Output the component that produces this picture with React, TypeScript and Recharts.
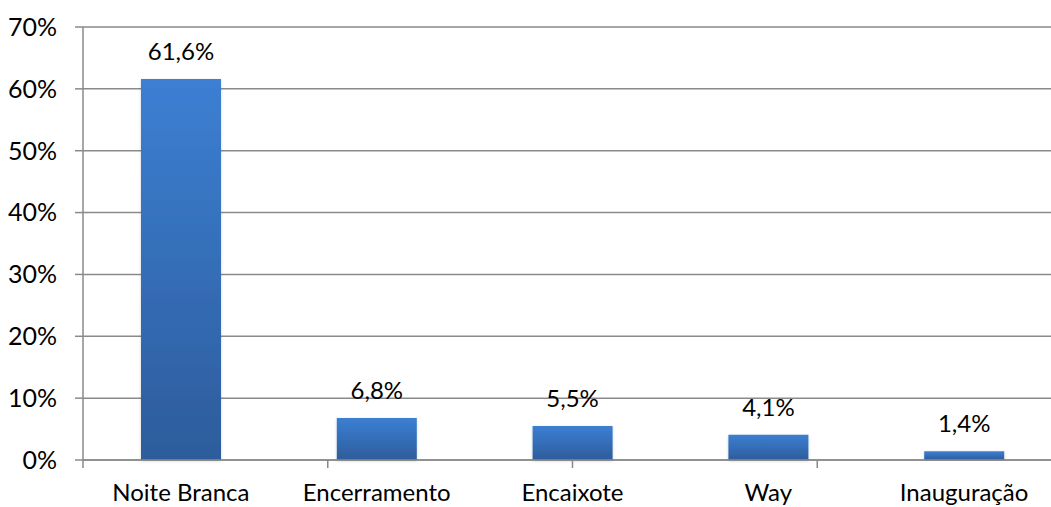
import { BarChart, Bar, XAxis, YAxis, CartesianGrid, LabelList } from "recharts";

const categories = ["Noite Branca", "Encerramento", "Encaixote", "Way", "Inauguração"];
const shares = [0.616, 0.068, 0.055, 0.041, 0.014];
const yTicks = [0, 0.1, 0.2, 0.3, 0.4, 0.5, 0.6, 0.7];
const boundaryTicks = [0, 1, 2, 3, 4, 5];

const data = categories.map((name, i) => ({ name, value: shares[i] }));

const FONT = "Lato, 'Open Sans', sans-serif";
const GRID = "#8a8a8a";

const pct = (v: number) => `${Math.round(v * 100)}%`;
const pctComma = (v: number) => `${(v * 100).toFixed(1).replace(".", ",")}%`;

export default function App() {
  return (
    <div
      style={{
        position: "fixed",
        left: 0,
        top: 0,
        width: 1051,
        height: 507,
        overflow: "hidden",
        background: "#fff",
        fontFamily: FONT,
      }}
    >
      <BarChart
        width={1075}
        height={507}
        data={data}
        margin={{ top: 27, right: 13, left: 0, bottom: 0 }}
      >
        <defs>
          <linearGradient id="barFill" x1="0" y1="0" x2="0" y2="1">
            <stop offset="0%" stopColor="#3c7fd3" />
            <stop offset="100%" stopColor="#2d5c9b" />
          </linearGradient>
          <filter id="barShadow" x="-10%" y="-10%" width="120%" height="120%">
            <feDropShadow dx="0" dy="1" stdDeviation="1.5" floodColor="#000" floodOpacity="0.18" />
          </filter>
        </defs>
        <CartesianGrid xAxisId="b" vertical={false} stroke={GRID} strokeWidth={1.5} />
        {/* boundary ticks between categories */}
        <XAxis
          xAxisId="a"
          type="number"
          domain={[0, 5]}
          ticks={boundaryTicks}
          height={8}
          tickSize={8}
          tickLine={{ stroke: GRID, strokeWidth: 1.5 }}
          axisLine={{ stroke: GRID, strokeWidth: 1.5 }}
          tickFormatter={() => ""}
          allowDataOverflow
        />
        <XAxis
          xAxisId="b"
          dataKey="name"
          height={39}
          axisLine={false}
          tickLine={false}
          tickSize={0}
          tickMargin={16}
          interval={0}
          tick={{ fill: "#000", fontSize: 24, fontFamily: FONT }}
        />
        <YAxis
          domain={[0, 0.7]}
          ticks={yTicks}
          width={83}
          tickSize={8}
          tickMargin={18}
          tickFormatter={pct}
          axisLine={{ stroke: GRID, strokeWidth: 1.5 }}
          tickLine={{ stroke: GRID, strokeWidth: 1.5 }}
          tick={{ fill: "#000", fontSize: 25, fontFamily: FONT }}
        />
        <Bar
          xAxisId="b"
          dataKey="value"
          barSize={80}
          fill="url(#barFill)"
          filter="url(#barShadow)"
          isAnimationActive={false}
        >
          <LabelList
            dataKey="value"
            position="top"
            offset={19}
            formatter={(v: any) => pctComma(Number(v))}
            style={{ fill: "#000", fontSize: 24, fontFamily: FONT }}
          />
        </Bar>
      </BarChart>
    </div>
  );
}
